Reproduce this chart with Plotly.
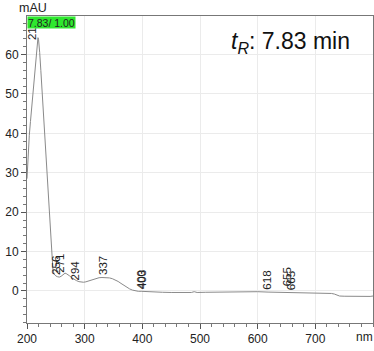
import numpy as np
import plotly.graph_objects as go

# Spectrum (wavelength nm, absorbance mAU)
wavelength = [200, 201, 202, 204, 206, 208, 210, 212, 214, 216, 217, 218, 219, 220, 221, 222,
              224, 226, 228, 230, 232, 235, 238, 240, 242, 243, 245, 247, 250, 253, 256, 259,
              262, 264, 266, 268, 271, 274, 278, 282, 286, 290, 294, 298, 302, 306, 310, 315,
              320, 325, 330, 337, 343, 348, 353, 358, 363, 368, 373, 378, 383, 388, 393, 398,
              403, 410, 420, 435, 450, 470, 485, 490, 495, 510, 530, 550, 575, 600, 618, 640,
              655, 665, 680, 700, 715, 728, 733, 738, 742, 750, 760, 770, 780, 790, 795, 800]
absorbance = [28.5, 32.0, 35.5, 39.5, 43.0, 46.5, 50.0, 53.5, 57.0, 60.5, 62.2, 63.6, 64.3, 63.9, 62.6, 60.5,
              56.0, 51.2, 46.4, 41.6, 36.8, 29.5, 22.3, 17.5, 12.0, 8.0, 5.3, 4.3, 3.8, 3.6, 3.5, 3.7,
              4.0, 4.3, 4.5, 4.4, 4.2, 3.8, 3.3, 2.9, 2.6, 2.35, 2.2, 2.2, 2.3, 2.5, 2.8, 3.05,
              3.25, 3.35, 3.4, 3.4, 3.3, 3.1, 2.8, 2.4, 1.9, 1.4, 0.9, 0.5, 0.2, 0.0, -0.1, -0.1,
              -0.15, -0.2, -0.3, -0.35, -0.4, -0.4, -0.4, -0.2, -0.4, -0.35, -0.3, -0.3, -0.25, -0.2, -0.3, -0.35,
              -0.4, -0.4, -0.5, -0.55, -0.6, -0.65, -0.8, -1.1, -1.3, -1.35, -1.4, -1.45, -1.5, -1.5, -1.4, -1.3]

# Peak labels
peak_wl = [219, 256, 271, 294, 337, 400, 403, 618, 655, 665]
peak_text = ["219", "256", "271", "294", "337", "400", "403", "618", "655", "665"]
peak_xshift = [-6, -4, -8, -6, -3, -1, -2, -1, -2, -4]
peak_yshift = [-4, 0, 0, 0, 0, 0, 0, 0, 4, 0]

x_ticks = [200, 300, 400, 500, 600, 700]
y_ticks = [0, 10, 20, 30, 40, 50, 60]

rt_label = "<i>t</i><sub><i>R</i></sub>: 7.83 min"
box_label = "7.83/ 1.00"

FONT = "Liberation Sans, Arial"

fig = go.Figure()
fig.add_trace(go.Scatter(x=wavelength, y=absorbance, mode="lines",
                         line=dict(color="#8a8a8a", width=1), hoverinfo="skip"))

for wl, txt, xs, ys in zip(peak_wl, peak_text, peak_xshift, peak_yshift):
    yv = float(np.interp(wl, wavelength, absorbance))
    fig.add_annotation(x=wl, y=yv, text=txt, showarrow=False, textangle=-90,
                       xanchor="center", yanchor="bottom", xshift=xs, yshift=ys,
                       font=dict(family=FONT, size=11.5, color="#222"))

fig.add_annotation(xref="paper", yref="paper", x=0, y=1, xanchor="left", yanchor="top",
                   text=box_label, showarrow=False, bgcolor="#2ee82e", width=47, height=11,
                   align="left", borderpad=0,
                   font=dict(family=FONT, size=10.5, color="#222"))

fig.add_annotation(xref="paper", yref="paper", x=0.585, y=0.968, xanchor="left", yanchor="top",
                   text=rt_label, showarrow=False,
                   font=dict(family=FONT, size=23, color="#111"))

fig.add_annotation(xref="paper", yref="paper", x=0.017, y=1.0, xanchor="center", yanchor="bottom",
                   text="mAU", showarrow=False, yshift=-1,
                   font=dict(family=FONT, size=12.5, color="#222"))
fig.add_annotation(xref="paper", yref="paper", x=1.0, y=0, xanchor="right", yanchor="top",
                   text="nm", showarrow=False, yshift=-5, xshift=2,
                   font=dict(family=FONT, size=12, color="#222"))

axis_font = dict(family=FONT, size=12, color="#222")
fig.update_xaxes(range=[200, 800], tickvals=x_ticks, ticks="outside", ticklen=5,
                 tickcolor="#555", showline=True, linecolor="#777", linewidth=1, mirror=True,
                 showgrid=True, gridcolor="#ebebeb", zeroline=False, tickfont=axis_font,
                 minor=dict(dtick=20, tick0=200, ticks="outside", ticklen=3, tickcolor="#777",
                            showgrid=False))
fig.update_yaxes(range=[-8.15, 69.8], tickvals=y_ticks, ticks="outside", ticklen=5,
                 tickcolor="#555", showline=True, linecolor="#777", linewidth=1, mirror=True,
                 showgrid=True, gridcolor="#ebebeb", zeroline=False, tickfont=axis_font,
                 minor=dict(dtick=2, tick0=0, ticks="outside", ticklen=3, tickcolor="#777",
                            showgrid=False))

fig.update_layout(width=374, height=351, margin=dict(l=27, r=1, t=16, b=28),
                  paper_bgcolor="white", plot_bgcolor="white", showlegend=False)

fig.write_html("out.html")
